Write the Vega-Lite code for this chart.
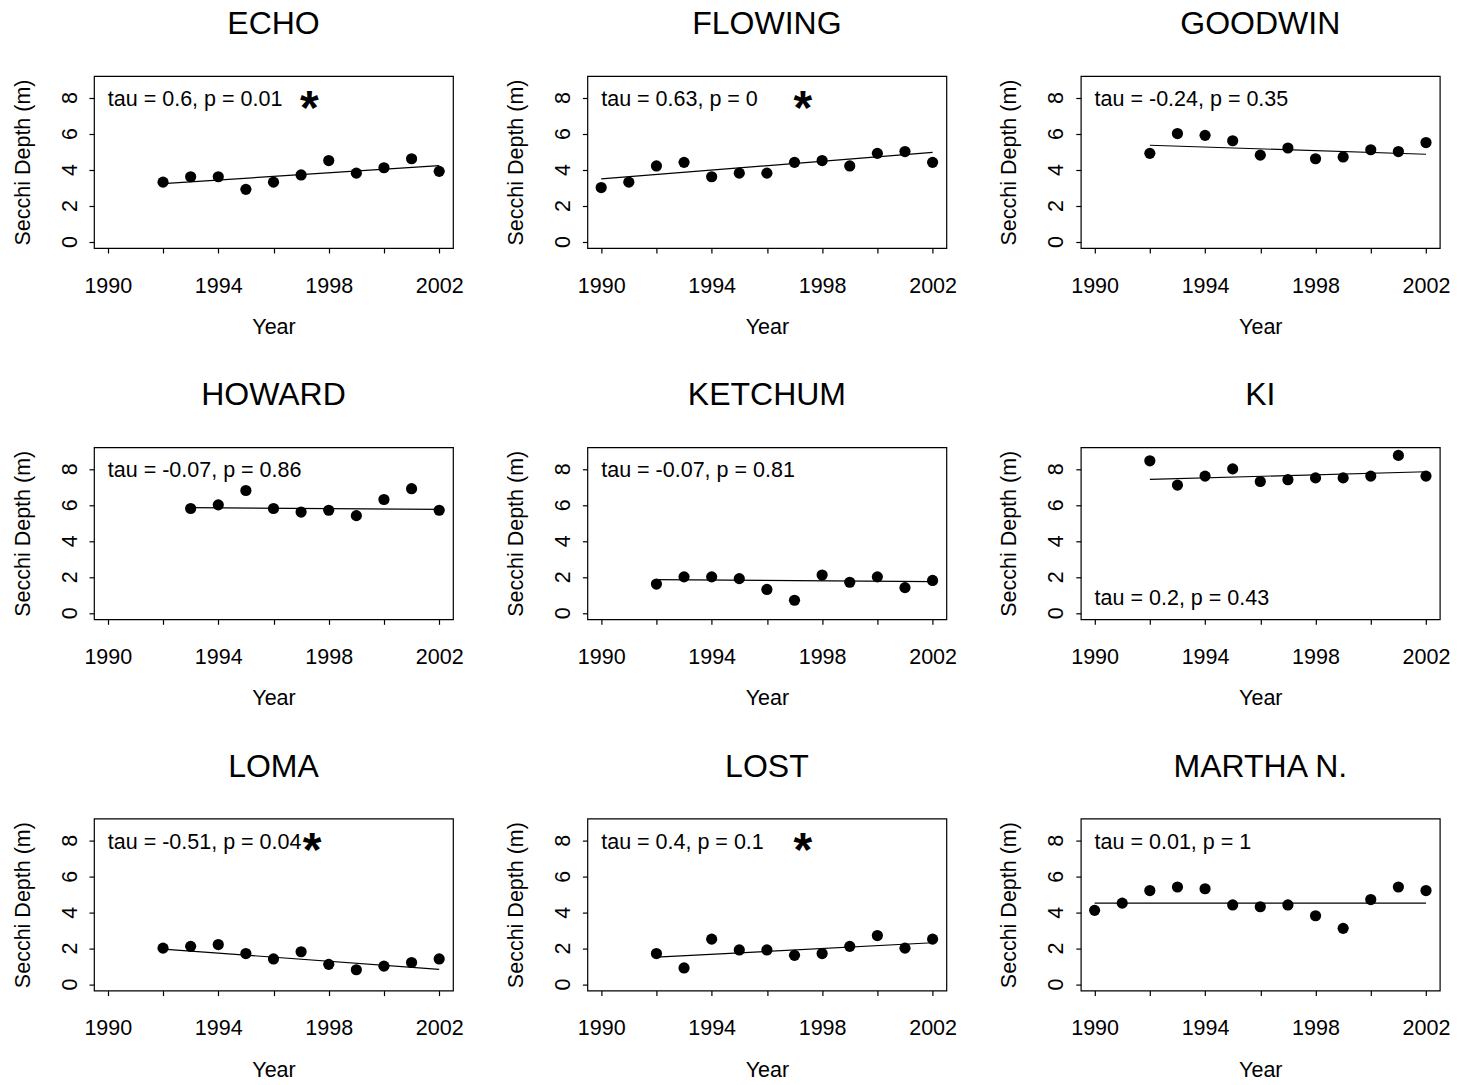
{
  "$schema": "https://vega.github.io/schema/vega-lite/v6.json",
  "background": "white",
  "padding": {"left": 11, "top": 7, "right": 10, "bottom": 5},
  "bounds": "flush",
  "spacing": {"column": 134.4, "row": 199.3},
  "data": {"values": [
    {"lake":"ECHO","kind":"pt","year":1992,"depth":3.3},{"lake":"ECHO","kind":"pt","year":1993,"depth":3.6},{"lake":"ECHO","kind":"pt","year":1994,"depth":3.6},{"lake":"ECHO","kind":"pt","year":1995,"depth":2.9},{"lake":"ECHO","kind":"pt","year":1996,"depth":3.3},{"lake":"ECHO","kind":"pt","year":1997,"depth":3.7},{"lake":"ECHO","kind":"pt","year":1998,"depth":4.5},{"lake":"ECHO","kind":"pt","year":1999,"depth":3.8},{"lake":"ECHO","kind":"pt","year":2000,"depth":4.1},{"lake":"ECHO","kind":"pt","year":2001,"depth":4.6},{"lake":"ECHO","kind":"pt","year":2002,"depth":3.9},
    {"lake":"FLOWING","kind":"pt","year":1990,"depth":3.0},{"lake":"FLOWING","kind":"pt","year":1991,"depth":3.3},{"lake":"FLOWING","kind":"pt","year":1992,"depth":4.2},{"lake":"FLOWING","kind":"pt","year":1993,"depth":4.4},{"lake":"FLOWING","kind":"pt","year":1994,"depth":3.6},{"lake":"FLOWING","kind":"pt","year":1995,"depth":3.8},{"lake":"FLOWING","kind":"pt","year":1996,"depth":3.8},{"lake":"FLOWING","kind":"pt","year":1997,"depth":4.4},{"lake":"FLOWING","kind":"pt","year":1998,"depth":4.5},{"lake":"FLOWING","kind":"pt","year":1999,"depth":4.2},{"lake":"FLOWING","kind":"pt","year":2000,"depth":4.9},{"lake":"FLOWING","kind":"pt","year":2001,"depth":5.0},{"lake":"FLOWING","kind":"pt","year":2002,"depth":4.4},
    {"lake":"GOODWIN","kind":"pt","year":1992,"depth":4.9},{"lake":"GOODWIN","kind":"pt","year":1993,"depth":6.0},{"lake":"GOODWIN","kind":"pt","year":1994,"depth":5.9},{"lake":"GOODWIN","kind":"pt","year":1995,"depth":5.6},{"lake":"GOODWIN","kind":"pt","year":1996,"depth":4.8},{"lake":"GOODWIN","kind":"pt","year":1997,"depth":5.2},{"lake":"GOODWIN","kind":"pt","year":1998,"depth":4.6},{"lake":"GOODWIN","kind":"pt","year":1999,"depth":4.7},{"lake":"GOODWIN","kind":"pt","year":2000,"depth":5.1},{"lake":"GOODWIN","kind":"pt","year":2001,"depth":5.0},{"lake":"GOODWIN","kind":"pt","year":2002,"depth":5.5},
    {"lake":"HOWARD","kind":"pt","year":1993,"depth":5.8},{"lake":"HOWARD","kind":"pt","year":1994,"depth":6.0},{"lake":"HOWARD","kind":"pt","year":1995,"depth":6.8},{"lake":"HOWARD","kind":"pt","year":1996,"depth":5.8},{"lake":"HOWARD","kind":"pt","year":1997,"depth":5.6},{"lake":"HOWARD","kind":"pt","year":1998,"depth":5.7},{"lake":"HOWARD","kind":"pt","year":1999,"depth":5.4},{"lake":"HOWARD","kind":"pt","year":2000,"depth":6.3},{"lake":"HOWARD","kind":"pt","year":2001,"depth":6.9},{"lake":"HOWARD","kind":"pt","year":2002,"depth":5.7},
    {"lake":"KETCHUM","kind":"pt","year":1992,"depth":1.6},{"lake":"KETCHUM","kind":"pt","year":1993,"depth":2.0},{"lake":"KETCHUM","kind":"pt","year":1994,"depth":2.0},{"lake":"KETCHUM","kind":"pt","year":1995,"depth":1.9},{"lake":"KETCHUM","kind":"pt","year":1996,"depth":1.3},{"lake":"KETCHUM","kind":"pt","year":1997,"depth":0.7},{"lake":"KETCHUM","kind":"pt","year":1998,"depth":2.1},{"lake":"KETCHUM","kind":"pt","year":1999,"depth":1.7},{"lake":"KETCHUM","kind":"pt","year":2000,"depth":2.0},{"lake":"KETCHUM","kind":"pt","year":2001,"depth":1.4},{"lake":"KETCHUM","kind":"pt","year":2002,"depth":1.8},
    {"lake":"KI","kind":"pt","year":1992,"depth":8.45},{"lake":"KI","kind":"pt","year":1993,"depth":7.1},{"lake":"KI","kind":"pt","year":1994,"depth":7.6},{"lake":"KI","kind":"pt","year":1995,"depth":8.0},{"lake":"KI","kind":"pt","year":1996,"depth":7.3},{"lake":"KI","kind":"pt","year":1997,"depth":7.4},{"lake":"KI","kind":"pt","year":1998,"depth":7.5},{"lake":"KI","kind":"pt","year":1999,"depth":7.5},{"lake":"KI","kind":"pt","year":2000,"depth":7.6},{"lake":"KI","kind":"pt","year":2001,"depth":8.75},{"lake":"KI","kind":"pt","year":2002,"depth":7.6},
    {"lake":"LOMA","kind":"pt","year":1992,"depth":2.0},{"lake":"LOMA","kind":"pt","year":1993,"depth":2.1},{"lake":"LOMA","kind":"pt","year":1994,"depth":2.2},{"lake":"LOMA","kind":"pt","year":1995,"depth":1.7},{"lake":"LOMA","kind":"pt","year":1996,"depth":1.4},{"lake":"LOMA","kind":"pt","year":1997,"depth":1.8},{"lake":"LOMA","kind":"pt","year":1998,"depth":1.1},{"lake":"LOMA","kind":"pt","year":1999,"depth":0.8},{"lake":"LOMA","kind":"pt","year":2000,"depth":1.0},{"lake":"LOMA","kind":"pt","year":2001,"depth":1.2},{"lake":"LOMA","kind":"pt","year":2002,"depth":1.4},
    {"lake":"LOST","kind":"pt","year":1992,"depth":1.7},{"lake":"LOST","kind":"pt","year":1993,"depth":0.9},{"lake":"LOST","kind":"pt","year":1994,"depth":2.5},{"lake":"LOST","kind":"pt","year":1995,"depth":1.9},{"lake":"LOST","kind":"pt","year":1996,"depth":1.9},{"lake":"LOST","kind":"pt","year":1997,"depth":1.6},{"lake":"LOST","kind":"pt","year":1998,"depth":1.7},{"lake":"LOST","kind":"pt","year":1999,"depth":2.1},{"lake":"LOST","kind":"pt","year":2000,"depth":2.7},{"lake":"LOST","kind":"pt","year":2001,"depth":2.0},{"lake":"LOST","kind":"pt","year":2002,"depth":2.5},
    {"lake":"MARTHA N.","kind":"pt","year":1990,"depth":4.1},{"lake":"MARTHA N.","kind":"pt","year":1991,"depth":4.5},{"lake":"MARTHA N.","kind":"pt","year":1992,"depth":5.2},{"lake":"MARTHA N.","kind":"pt","year":1993,"depth":5.4},{"lake":"MARTHA N.","kind":"pt","year":1994,"depth":5.3},{"lake":"MARTHA N.","kind":"pt","year":1995,"depth":4.4},{"lake":"MARTHA N.","kind":"pt","year":1996,"depth":4.3},{"lake":"MARTHA N.","kind":"pt","year":1997,"depth":4.4},{"lake":"MARTHA N.","kind":"pt","year":1998,"depth":3.8},{"lake":"MARTHA N.","kind":"pt","year":1999,"depth":3.1},{"lake":"MARTHA N.","kind":"pt","year":2000,"depth":4.7},{"lake":"MARTHA N.","kind":"pt","year":2001,"depth":5.4},{"lake":"MARTHA N.","kind":"pt","year":2002,"depth":5.2},
    {"lake":"ECHO","kind":"fit","year":1992,"depth":3.22},{"lake":"ECHO","kind":"fit","year":2002,"depth":4.22},
    {"lake":"FLOWING","kind":"fit","year":1990,"depth":3.48},{"lake":"FLOWING","kind":"fit","year":2002,"depth":4.95},
    {"lake":"GOODWIN","kind":"fit","year":1992,"depth":5.35},{"lake":"GOODWIN","kind":"fit","year":2002,"depth":4.85},
    {"lake":"HOWARD","kind":"fit","year":1993,"depth":5.85},{"lake":"HOWARD","kind":"fit","year":2002,"depth":5.75},
    {"lake":"KETCHUM","kind":"fit","year":1992,"depth":1.85},{"lake":"KETCHUM","kind":"fit","year":2002,"depth":1.73},
    {"lake":"KI","kind":"fit","year":1992,"depth":7.42},{"lake":"KI","kind":"fit","year":2002,"depth":7.84},
    {"lake":"LOMA","kind":"fit","year":1992,"depth":1.95},{"lake":"LOMA","kind":"fit","year":2002,"depth":0.82},
    {"lake":"LOST","kind":"fit","year":1992,"depth":1.5},{"lake":"LOST","kind":"fit","year":2002,"depth":2.3},
    {"lake":"MARTHA N.","kind":"fit","year":1990,"depth":4.5},{"lake":"MARTHA N.","kind":"fit","year":2002,"depth":4.5},
    {"lake":"ECHO","kind":"txt","year":1990,"depth":8,"label":"tau = 0.6, p = 0.01"},
    {"lake":"FLOWING","kind":"txt","year":1990,"depth":8,"label":"tau = 0.63, p = 0"},
    {"lake":"GOODWIN","kind":"txt","year":1990,"depth":8,"label":"tau = -0.24, p = 0.35"},
    {"lake":"HOWARD","kind":"txt","year":1990,"depth":8,"label":"tau = -0.07, p = 0.86"},
    {"lake":"KETCHUM","kind":"txt","year":1990,"depth":8,"label":"tau = -0.07, p = 0.81"},
    {"lake":"KI","kind":"txt","year":1990,"depth":0.9,"label":"tau = 0.2, p = 0.43"},
    {"lake":"LOMA","kind":"txt","year":1990,"depth":8,"label":"tau = -0.51, p = 0.04"},
    {"lake":"LOST","kind":"txt","year":1990,"depth":8,"label":"tau = 0.4, p = 0.1"},
    {"lake":"MARTHA N.","kind":"txt","year":1990,"depth":8,"label":"tau = 0.01, p = 1"},
    {"lake":"ECHO","kind":"star","year":1997.3,"depth":8,"label":"*"},
    {"lake":"FLOWING","kind":"star","year":1997.3,"depth":8,"label":"*"},
    {"lake":"LOMA","kind":"star","year":1997.4,"depth":8,"label":"*"},
    {"lake":"LOST","kind":"star","year":1997.3,"depth":8,"label":"*"}
  ]},
  "facet": {
    "field": "lake", "type": "nominal",
    "header": {"title": null, "labelFont": "Liberation Sans", "labelFontSize": 32, "labelColor": "black", "labelPadding": 10, "labelBaseline": "alphabetic"}
  },
  "columns": 3,
  "resolve": {"axis": {"x": "independent", "y": "independent"}},
  "spec": {
    "width": 359,
    "height": 172,
    "encoding": {
      "x": {"field": "year", "type": "quantitative",
        "scale": {"domain": [1989.5, 2002.5], "nice": false, "zero": false},
        "axis": {"title": "Year", "values": [1990,1992,1994,1996,1998,2000,2002], "format": "d",
          "labelExpr": "datum.value % 4 == 2 ? datum.label : ''",
          "labelPadding": 22, "titleY": 85.5, "titleBaseline": "alphabetic"}},
      "y": {"field": "depth", "type": "quantitative",
        "scale": {"domain": [-0.36, 9.2], "nice": false, "zero": false},
        "axis": {"title": "Secchi Depth (m)", "values": [0,2,4,6,8],
          "labelAngle": 270, "labelAlign": "center", "labelBaseline": "alphabetic", "labelPadding": 13,
          "titleAngle": 270, "titleX": -65, "titleY": 86, "titleAlign": "center", "titleBaseline": "alphabetic"}}
    },
    "layer": [
      {"transform": [{"filter": "datum.kind == 'fit'"}],
       "mark": {"type": "line", "color": "black", "strokeWidth": 1.2}},
      {"transform": [{"filter": "datum.kind == 'pt'"}],
       "mark": {"type": "point", "shape": "circle", "filled": true, "color": "black", "opacity": 1, "size": 125}},
      {"transform": [{"filter": "datum.kind == 'txt'"}],
       "mark": {"type": "text", "align": "left", "baseline": "middle", "dy": 2.5, "font": "Liberation Sans", "fontSize": 21.5, "color": "black"},
       "encoding": {"text": {"field": "label"}}},
      {"transform": [{"filter": "datum.kind == 'star'"}],
       "mark": {"type": "text", "align": "center", "baseline": "middle", "dy": 12, "font": "Liberation Sans", "fontSize": 48, "fontWeight": "bold", "color": "black"},
       "encoding": {"text": {"field": "label"}}}
    ]
  },
  "config": {
    "view": {"stroke": "black", "strokeWidth": 1.2},
    "axis": {"grid": false, "domain": false, "ticks": true, "tickSize": 5, "tickColor": "black", "tickWidth": 1.2,
      "labelFont": "Liberation Sans", "labelFontSize": 21.5, "labelColor": "black",
      "titleFont": "Liberation Sans", "titleFontSize": 21.5, "titleColor": "black", "titleFontWeight": "normal",
      "labelOverlap": false, "labelBound": false, "labelFlush": false}
  }
}
